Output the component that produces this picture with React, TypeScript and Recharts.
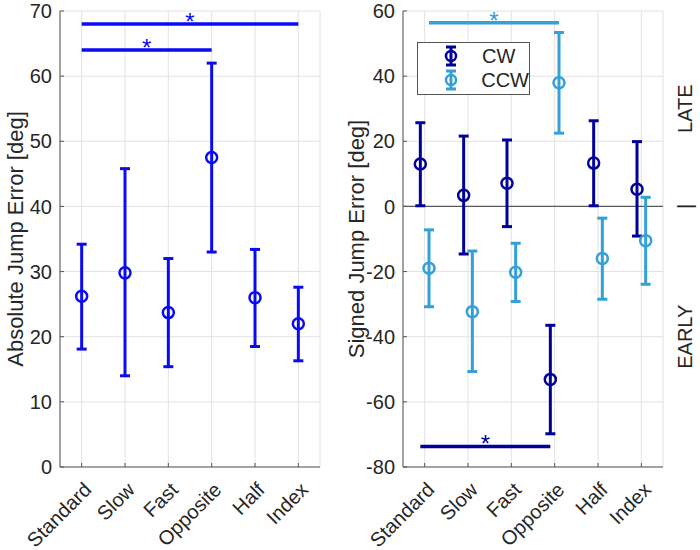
import React from "react"
import {
  ScatterChart,
  Scatter,
  XAxis,
  YAxis,
  CartesianGrid,
  ErrorBar,
  ReferenceLine,
  Legend,
} from "recharts"

const conditions = ["Standard", "Slow", "Fast", "Opposite", "Half", "Index"]
const conditionPos = [1, 2, 3, 4, 5, 6]

// absolute jump error: mean, lower and upper interval ends
const absMean = [26.2, 29.8, 23.7, 47.5, 26.0, 22.0]
const absLower = [18.1, 14.0, 15.4, 33.0, 18.5, 16.3]
const absUpper = [34.2, 45.8, 32.0, 62.0, 33.4, 27.6]

// signed jump error, clockwise
const cwMean = [13.0, 3.4, 7.1, -53.1, 13.3, 5.3]
const cwLower = [0.2, -14.6, -6.2, -69.8, 0.2, -9.1]
const cwUpper = [25.7, 21.6, 20.4, -36.5, 26.3, 19.9]

// signed jump error, counter-clockwise
const ccwMean = [-19.0, -32.3, -20.2, 38.0, -16.0, -10.5]
const ccwLower = [-30.8, -50.7, -29.2, 22.5, -28.5, -23.9]
const ccwUpper = [-7.2, -13.7, -11.3, 53.4, -3.6, 2.8]

const absTicks = [0, 10, 20, 30, 40, 50, 60, 70]
const signedTicks = [-80, -60, -40, -20, 0, 20, 40, 60]

// significance brackets: [from condition, to condition, level]
const absSig = [
  [1, 6, 68],
  [1, 4, 64],
]
const cwSig = [[1, 4, -73.7]]
const ccwSig = [[1, 4, 56.4]]

const sideLabelValues = [30, 0, -40]
const sideLabelText = ["LATE", "|", "EARLY"]

const seriesNames = ["CW", "CCW"]

const BLUE = "#0a0af5"
const NAVY = "#00009a"
const SKY = "#33a0d8"
const INK = "#262626"
const BOX = "#555555"
const GRID = "#e2e2e2"
const SHIFT = 0.1

const points = (mean: number[], lower: number[], upper: number[], shift: number) =>
  mean.map((m, i) => ({
    x: conditionPos[i] + shift,
    y: m,
    err: [m - lower[i], upper[i] - m],
  }))

const starPoints = (sig: number[][], shift: number) =>
  sig.map(([a, b, level]) => ({ x: (a + b) / 2 + shift, y: level }))

const ring = (color: string) => (props: any) =>
  <circle cx={props.cx} cy={props.cy} r={5.5} fill="none" stroke={color} strokeWidth={2.5} />

const star = (color: string) => (props: any) => (
  <text x={props.cx} y={props.cy + 6} textAnchor="middle" fontSize={24} fill={color}>
    *
  </text>
)

const SlantTick = ({ x, y, payload }: any) => {
  const ax = x + 11
  const ay = y + 24
  return (
    <text
      x={ax}
      y={ay}
      transform={`rotate(-45 ${ax} ${ay})`}
      textAnchor="end"
      fontSize={20}
      fill={INK}
    >
      {conditions[payload.value - 1]}
    </text>
  )
}

const SideTick = ({ x, y, payload }: any) => {
  const i = sideLabelValues.indexOf(payload.value)
  const tx = x + 22
  return (
    <text
      x={tx}
      y={y}
      transform={`rotate(-90 ${tx} ${y})`}
      textAnchor="middle"
      dominantBaseline="central"
      fontSize={20}
      fill={INK}
    >
      {sideLabelText[i]}
    </text>
  )
}

const NoTick = () => <g />

const ErrIcon = ({ color }: { color: string }) => (
  <svg width={14} height={22}>
    <line x1={7} y1={2} x2={7} y2={20} stroke={color} strokeWidth={3} />
    <line x1={2} y1={2} x2={12} y2={2} stroke={color} strokeWidth={3} />
    <line x1={2} y1={20} x2={12} y2={20} stroke={color} strokeWidth={3} />
    <circle cx={7} cy={11} r={5} fill="none" stroke={color} strokeWidth={2.5} />
  </svg>
)

const LegendBox = () => (
  <div
    style={{
      width: 111,
      height: 49,
      border: `1px solid ${BOX}`,
      background: "#fff",
      boxSizing: "content-box",
      padding: "1px 0",
    }}
  >
    {seriesNames.map((name, i) => (
      <div key={name} style={{ display: "flex", alignItems: "center", height: 24 }}>
        <div style={{ width: 26 }} />
        <ErrIcon color={i === 0 ? NAVY : SKY} />
        <span style={{ marginLeft: 24, fontSize: 20, color: INK, lineHeight: "24px" }}>{name}</span>
      </div>
    ))}
  </div>
)

const xAxes = (
  <>
    <XAxis
      xAxisId="b"
      type="number"
      dataKey="x"
      domain={[0.5, 6.5]}
      ticks={conditionPos}
      allowDataOverflow
      height={83}
      stroke={BOX}
      tickSize={-4}
      tickMargin={4}
      tick={<SlantTick />}
      interval={0}
    />
    <XAxis
      xAxisId="t"
      orientation="top"
      type="number"
      domain={[0.5, 6.5]}
      ticks={conditionPos}
      allowDataOverflow
      height={0}
      stroke={BOX}
      tickSize={-4}
      tick={NoTick}
      interval={0}
    />
  </>
)

export default function App() {
  const absData = points(absMean, absLower, absUpper, 0)
  const cwData = points(cwMean, cwLower, cwUpper, -SHIFT)
  const ccwData = points(ccwMean, ccwLower, ccwUpper, SHIFT)

  return (
    <div
      style={{
        position: "absolute",
        left: 0,
        top: 0,
        width: 700,
        height: 550,
        background: "#fff",
        display: "flex",
        fontFamily: "'Liberation Sans', Arial, Helvetica, sans-serif",
      }}
    >
      <ScatterChart width={340} height={550} margin={{ top: 11, right: 20, bottom: 0, left: 0 }}>
        <CartesianGrid xAxisId="b" yAxisId="l" stroke={GRID} />
        {xAxes}
        <YAxis
          yAxisId="l"
          type="number"
          dataKey="y"
          domain={[0, 70]}
          ticks={absTicks}
          allowDataOverflow
          width={60}
          stroke={BOX}
          tickSize={-4}
          tickMargin={12}
          tick={{ fill: INK, fontSize: 20 }}
          interval={0}
          label={{
            value: "Absolute Jump Error [deg]",
            angle: -90,
            position: "insideLeft",
            offset: 15,
            style: { textAnchor: "middle", fontSize: 22, fill: INK },
          }}
        />
        <YAxis
          yAxisId="r"
          orientation="right"
          type="number"
          domain={[0, 70]}
          ticks={absTicks}
          allowDataOverflow
          width={0}
          stroke={BOX}
          tickSize={-4}
          tick={NoTick}
          interval={0}
        />
        {absSig.map(([a, b, level], i) => (
          <ReferenceLine
            key={i}
            xAxisId="b"
            yAxisId="l"
            segment={[
              { x: a, y: level },
              { x: b, y: level },
            ]}
            stroke={BLUE}
            strokeWidth={3.5}
          />
        ))}
        <Scatter
          xAxisId="b"
          yAxisId="l"
          data={absData}
          fill={BLUE}
          shape={ring(BLUE)}
          isAnimationActive={false}
        >
          <ErrorBar dataKey="err" direction="y" width={5} stroke={BLUE} strokeWidth={3} isAnimationActive={false} />
        </Scatter>
        <Scatter
          xAxisId="b"
          yAxisId="l"
          data={starPoints(absSig, 0)}
          shape={star(BLUE)}
          legendType="none"
          isAnimationActive={false}
        />
      </ScatterChart>

      <ScatterChart width={360} height={550} margin={{ top: 11, right: 0, bottom: 0, left: 0 }}>
        <CartesianGrid xAxisId="b" yAxisId="l" stroke={GRID} />
        {xAxes}
        <YAxis
          yAxisId="l"
          type="number"
          dataKey="y"
          domain={[-80, 60]}
          ticks={signedTicks}
          allowDataOverflow
          width={63}
          stroke={BOX}
          tickSize={-4}
          tickMargin={12}
          tick={{ fill: INK, fontSize: 20 }}
          interval={0}
          label={{
            value: "Signed Jump Error [deg]",
            angle: -90,
            position: "insideLeft",
            offset: 16,
            style: { textAnchor: "middle", fontSize: 22, fill: INK },
          }}
        />
        <YAxis
          yAxisId="r"
          orientation="right"
          type="number"
          domain={[-80, 60]}
          ticks={signedTicks}
          allowDataOverflow
          width={0}
          stroke={BOX}
          tickSize={-4}
          tick={NoTick}
          interval={0}
        />
        <YAxis
          yAxisId="side"
          orientation="right"
          type="number"
          domain={[-80, 60]}
          ticks={sideLabelValues}
          allowDataOverflow
          width={37}
          axisLine={false}
          tickLine={false}
          tickSize={0}
          tickMargin={0}
          tick={<SideTick />}
          interval={0}
        />
        <ReferenceLine xAxisId="b" yAxisId="l" y={0} stroke="#5a5a5a" strokeWidth={1.3} />
        {cwSig.map(([a, b, level], i) => (
          <ReferenceLine
            key={`cw${i}`}
            xAxisId="b"
            yAxisId="l"
            segment={[
              { x: a - SHIFT, y: level },
              { x: b - SHIFT, y: level },
            ]}
            stroke={NAVY}
            strokeWidth={3.5}
          />
        ))}
        {ccwSig.map(([a, b, level], i) => (
          <ReferenceLine
            key={`ccw${i}`}
            xAxisId="b"
            yAxisId="l"
            segment={[
              { x: a + SHIFT, y: level },
              { x: b + SHIFT, y: level },
            ]}
            stroke={SKY}
            strokeWidth={3.5}
          />
        ))}
        <Scatter
          name={seriesNames[0]}
          xAxisId="b"
          yAxisId="l"
          data={cwData}
          fill={NAVY}
          shape={ring(NAVY)}
          isAnimationActive={false}
        >
          <ErrorBar dataKey="err" direction="y" width={5} stroke={NAVY} strokeWidth={3} isAnimationActive={false} />
        </Scatter>
        <Scatter
          name={seriesNames[1]}
          xAxisId="b"
          yAxisId="l"
          data={ccwData}
          fill={SKY}
          shape={ring(SKY)}
          isAnimationActive={false}
        >
          <ErrorBar dataKey="err" direction="y" width={5} stroke={SKY} strokeWidth={3} isAnimationActive={false} />
        </Scatter>
        <Scatter
          xAxisId="b"
          yAxisId="l"
          data={starPoints(cwSig, -SHIFT)}
          shape={star(NAVY)}
          legendType="none"
          isAnimationActive={false}
        />
        <Scatter
          xAxisId="b"
          yAxisId="l"
          data={starPoints(ccwSig, SHIFT)}
          shape={star(SKY)}
          legendType="none"
          isAnimationActive={false}
        />
        <Legend
          layout="vertical"
          align="center"
          verticalAlign="middle"
          wrapperStyle={{ left: 77, top: 42, width: 113, height: 53 }}
          content={() => <LegendBox />}
        />
      </ScatterChart>
    </div>
  )
}
